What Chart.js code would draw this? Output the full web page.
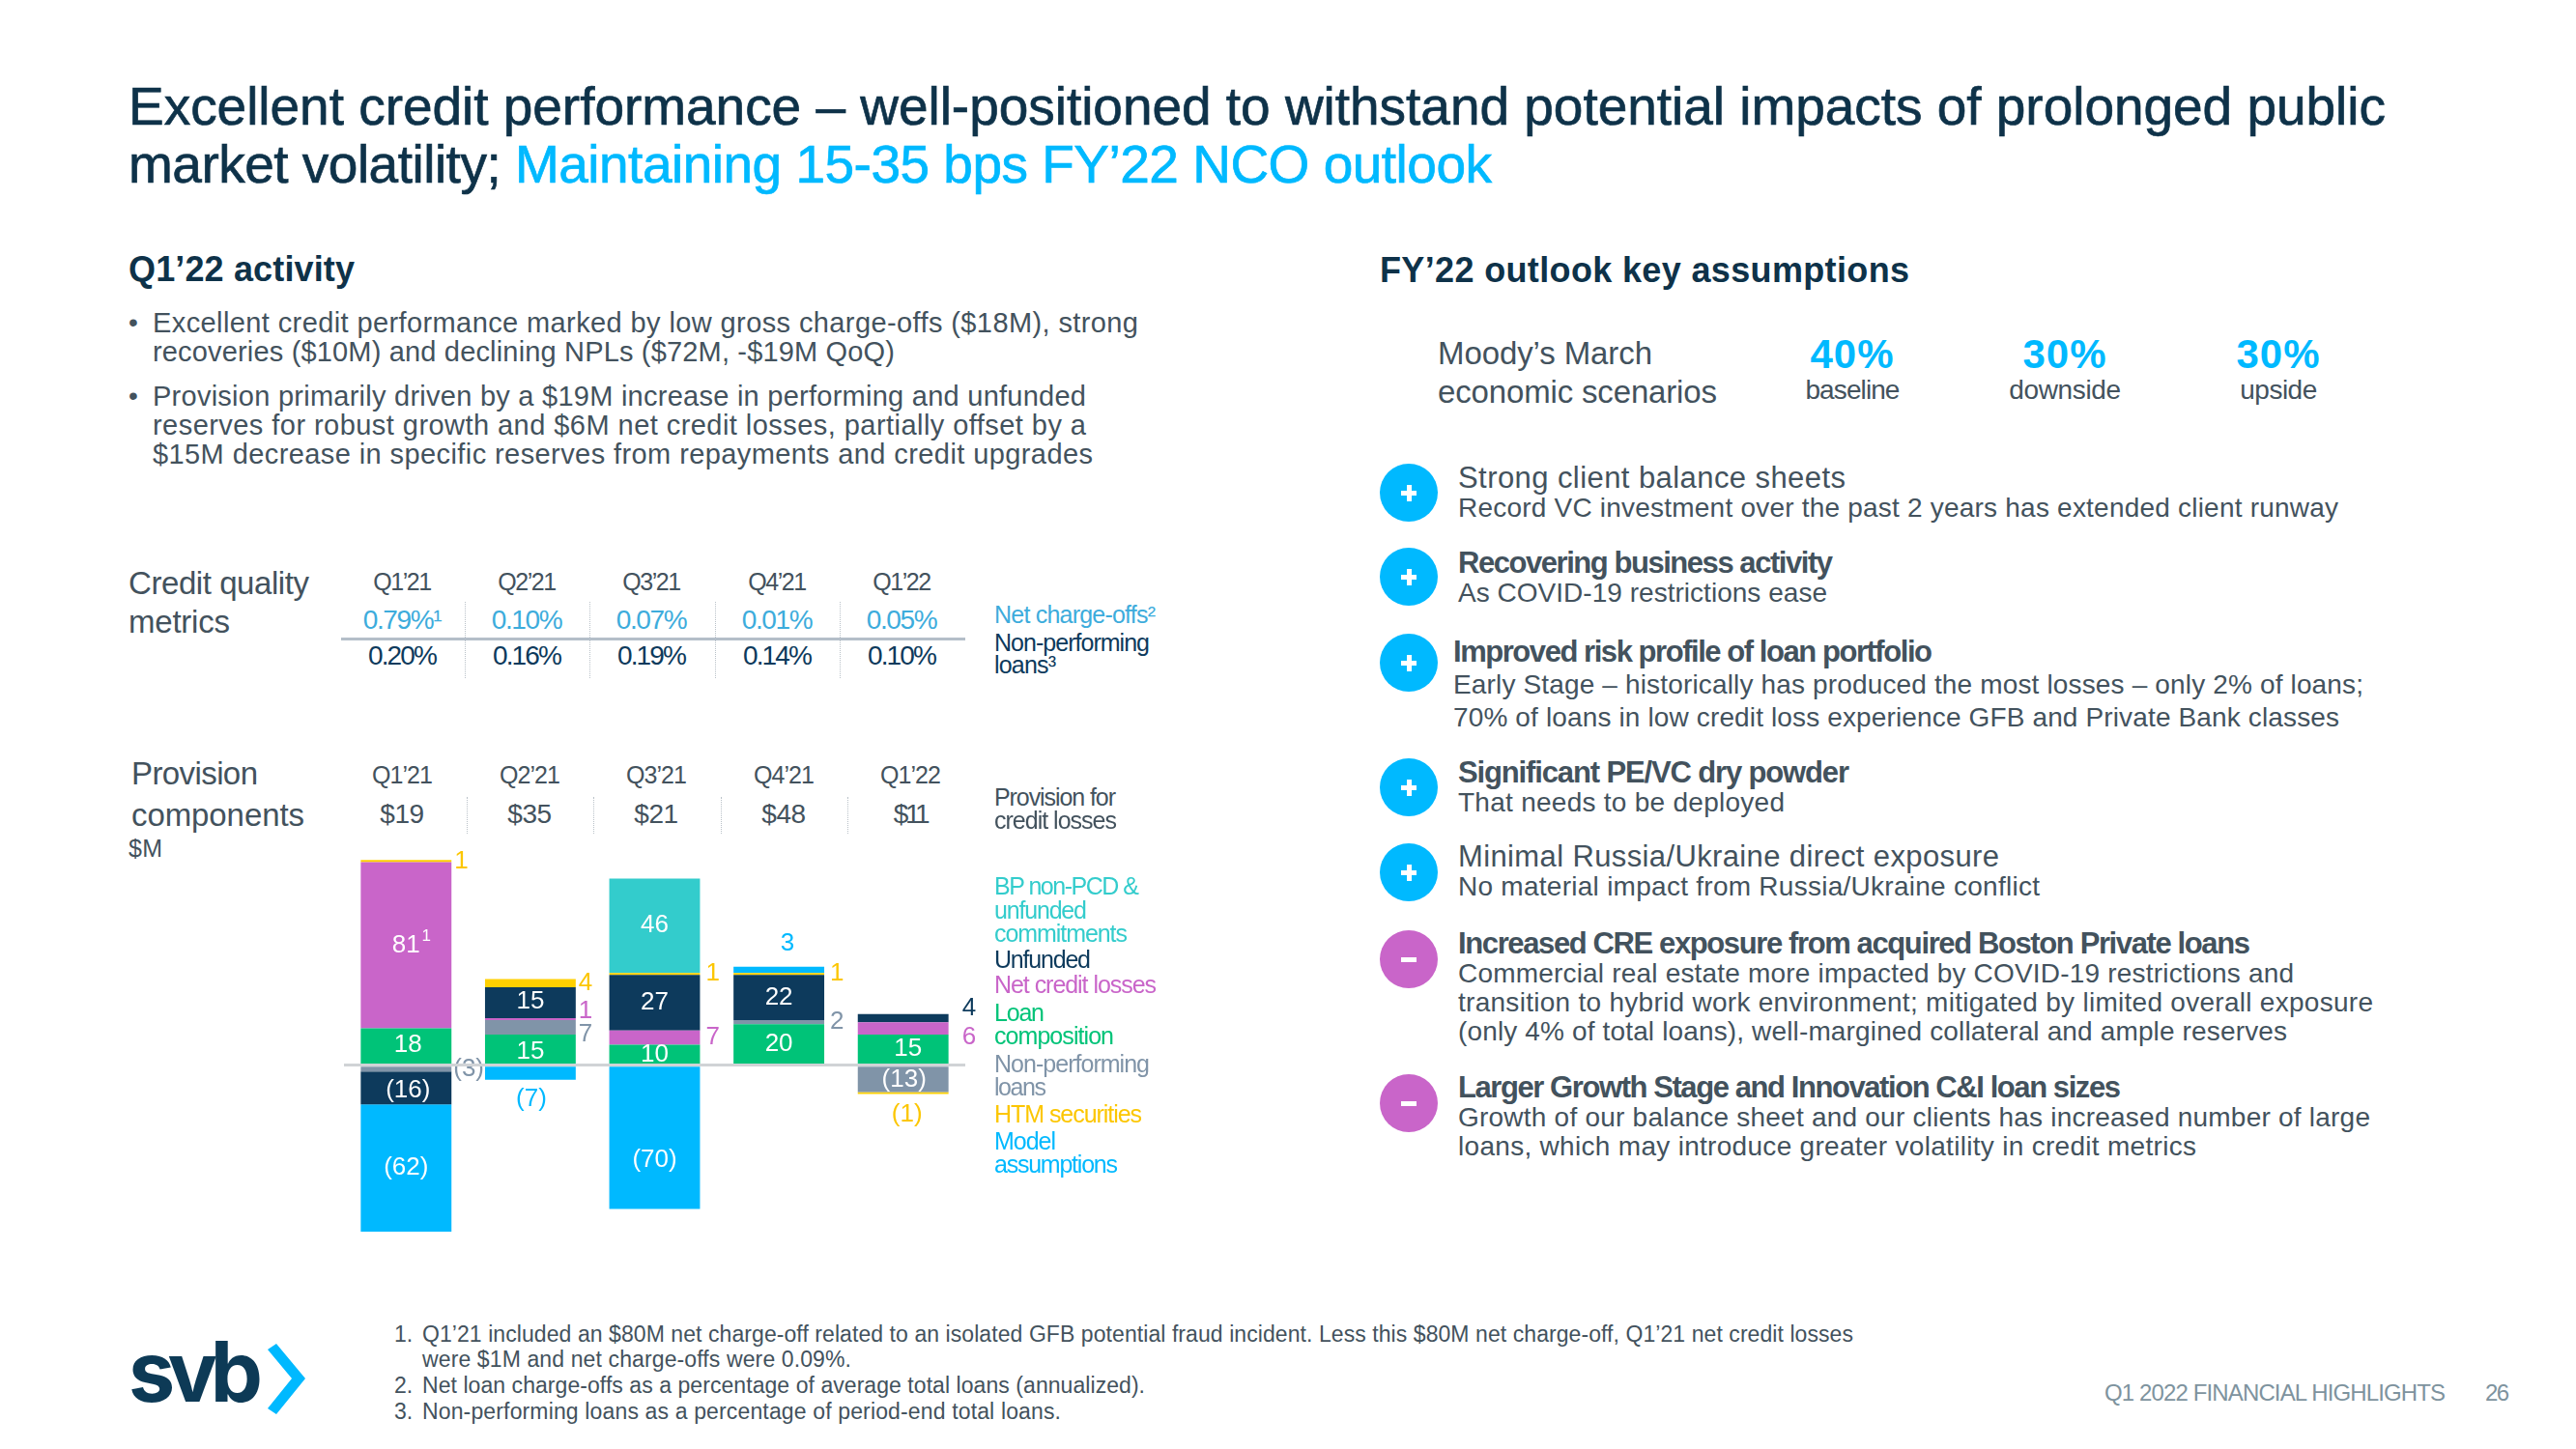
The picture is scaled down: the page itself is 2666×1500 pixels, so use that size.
<!DOCTYPE html>
<html>
<head>
<meta charset="utf-8">
<title>Credit performance</title>
<script src="https://cdn.jsdelivr.net/npm/chart.js@4"></script>
<style>
html, body { margin: 0; padding: 0; background: #fff; }
#page { position: relative; width: 2666px; height: 1500px; overflow: hidden; font-family: "Liberation Sans", sans-serif; }
#page div.t { position: absolute; white-space: nowrap; line-height: 1; }
#bars { position: absolute; left: 356px; top: 869px; }
.sep { position: absolute; width: 0; border-left: 1px dotted #b9c1c8; }
.dot { position: absolute; width: 60px; height: 60px; border-radius: 50%; color: #fff; }
.dot b { position: absolute; background: #fff; }
</style>
</head>
<body>
<div id="page">
<canvas id="bars" width="700" height="425"></canvas>
<svg style="position:absolute;left:270px;top:1385px" width="50" height="85"><polygon points="7,12 16,6 46,42 16,79 7,73 32,42" fill="#00b9ff"/></svg>
</div>
<script>
// chart data, $M
const quarters = ["Q1’21", "Q2’21", "Q3’21", "Q4’21", "Q1’22"];
const provisionTotals = ["$19", "$35", "$21", "$48", "$11"];
const netChargeOffs = ["0.79%¹", "0.10%", "0.07%", "0.01%", "0.05%"];
const nonPerforming = ["0.20%", "0.16%", "0.19%", "0.14%", "0.10%"];

const loanComposition = [18, 15, 10, 20, 15];
const nonPerformingLoans = [-3, 7, null, 2, -13];
const netCreditLosses = [81, 1, 7, null, 6];
const unfunded = [-16, 15, 27, 22, 4];
const htmSecurities = [1, 4, 1, 1, -1];
const modelAssumptions = [-62, -7, -70, 3, null];
const bpNonPcd = [null, null, 46, null, null];

const NAVY = "#0d3a5c", TEXT = "#43525d", TITLE = "#0e3249";
const GREEN = "#00c378", GRAY = "#8094a8", PURPLE = "#c965c9", YELLOW = "#ffd000", BLUE = "#00b9ff", TEAL = "#33cccc";

// hand placed labels: "dataset,quarter" -> [dx, dy]
const labelNudges = {
    "5,2": [0, 23], "5,3": [9, 0], "5,1": [1, 0],
    "0,4": [5, 0], "1,4": [1, 1], "4,4": [4, 1],
    "3,0": [2, 3], "0,0": [2, -1], "1,0": [-4, 0], "4,0": [-3, 1],
    "0,1": [0, 3], "3,1": [0, -1], "2,1": [-3, 0], "1,1": [-3, 0], "4,1": [-3, 0],
    "3,4": [8, -3], "2,4": [8, 3]
};

const page = document.getElementById("page");

// puts one line of text, letter spacing is squeezed so the line gets width w
function put(html, x, y, size, color, w, opts) {
    opts = opts || {};
    const el = document.createElement("div");
    el.className = "t";
    el.innerHTML = html;
    el.style.fontSize = size + "px";
    el.style.color = color;
    if (opts.bold) el.style.fontWeight = "700";
    if (opts.font) el.style.fontFamily = opts.font;
    if (opts.stroke) el.style.webkitTextStroke = opts.stroke + "px";
    page.appendChild(el);
    if (w) {
        const n = el.textContent.length - 1;
        el.style.letterSpacing = ((w - el.getBoundingClientRect().width) / n) + "px";
    }
    const width = el.getBoundingClientRect().width;
    el.style.left = (opts.center ? x - width / 2 : x) + "px";
    el.style.top = (y - el.getBoundingClientRect().height / 2) + "px";
}

function sep(x, top, bottom) {
    const s = document.createElement("div");
    s.className = "sep";
    s.style.left = x + "px";
    s.style.top = top + "px";
    s.style.height = (bottom - top) + "px";
    page.appendChild(s);
}

function icon(y, color, plus) {
    const d = document.createElement("div");
    d.className = "dot";
    d.style.left = "1428px";
    d.style.top = (y - 30) + "px";
    d.style.background = color;
    d.innerHTML = '<b style="left:22px;top:28px;width:16px;height:5px"></b>' +
        (plus ? '<b style="left:27.5px;top:22px;width:5px;height:17px"></b>' : "");
    page.appendChild(d);
}

// title
put("Excellent credit performance – well-positioned to withstand potential impacts of prolonged public", 133, 110, 55, TITLE, 2336, {stroke: 0.7});
put('market volatility; <span style="color:#00b9ff">Maintaining 15-35 bps FY’22 NCO outlook</span>', 133, 170, 55, TITLE, 1411, {stroke: 0.7});

// left text
put("Q1’22 activity", 133, 279, 36, TITLE, 234, {bold: true});
put("•", 133, 334, 28, TEXT);
put("Excellent credit performance marked by low gross charge-offs ($18M), strong", 158, 334, 29, TEXT, 1020);
put("recoveries ($10M) and declining NPLs ($72M, -$19M QoQ)", 158, 364, 29, TEXT, 768);
put("•", 133, 410, 28, TEXT);
put("Provision primarily driven by a $19M increase in performing and unfunded", 158, 410, 29, TEXT, 966);
put("reserves for robust growth and $6M net credit losses, partially offset by a", 158, 440, 29, TEXT, 966);
put("$15M decrease in specific reserves from repayments and credit upgrades", 158, 470, 29, TEXT, 973);

// credit quality table
put("Credit quality", 133, 603, 33, TEXT, 187);
put("metrics", 133, 643, 33, TEXT, 105);
const metricX = [416, 545, 674, 804, 933];
quarters.forEach(function (q, i) {
    put(q, metricX[i], 602, 25, TEXT, 61, {center: true});
    put(netChargeOffs[i], metricX[i], 642, 28, "#3dacdc", i == 0 ? 82 : 74, {center: true});
    put(nonPerforming[i], metricX[i], 679, 28, NAVY, 72, {center: true});
});
[481, 610, 740, 869].forEach(function (x) { sep(x, 623, 702); });
const rule = document.createElement("div");
rule.style.cssText = "position:absolute;left:353px;top:660px;width:646px;height:3px;background:#b4bec9";
page.appendChild(rule);
put("Net charge-offs²", 1029, 636, 25, "#3dacdc", 167);
put("Non-performing", 1029, 665, 25, NAVY, 161);
put("loans³", 1029, 688, 25, NAVY, 64);

// provision header
put("Provision", 136, 800, 33, TEXT, 131);
put("components", 136, 843, 33, TEXT, 179);
put("$M", 133, 878, 25, TEXT, 35);
const provX = [416, 548, 679, 811, 942];
quarters.forEach(function (q, i) {
    put(q, provX[i], 802, 25, TEXT, 63, {center: true});
    put(provisionTotals[i], provX[i], 843, 28, TEXT, i == 4 ? 38 : 46, {center: true});
});
[483, 614, 746, 877].forEach(function (x) { sep(x, 825, 863); });
put("Provision for", 1029, 825, 25, TEXT, 126);
put("credit losses", 1029, 849, 25, TEXT, 127);

// bar legend
put("BP non-PCD &amp;", 1029, 917, 25, TEAL, 150);
put("unfunded", 1029, 942, 25, TEAL, 96);
put("commitments", 1029, 966, 25, TEAL, 138);
put("Unfunded", 1029, 993, 25, NAVY, 100);
put("Net credit losses", 1029, 1019, 25, PURPLE, 168);
put("Loan", 1029, 1048, 25, GREEN, 52);
put("composition", 1029, 1072, 25, GREEN, 124);
put("Non-performing", 1029, 1101, 25, GRAY, 161);
put("loans", 1029, 1125, 25, GRAY, 54);
put("HTM securities", 1029, 1153, 25, "#fcc600", 153);
put("Model", 1029, 1181, 25, BLUE, 64);
put("assumptions", 1029, 1205, 25, BLUE, 128);

// right column
put("FY’22 outlook key assumptions", 1428, 280, 36, TITLE, 548, {bold: true});
put("Moody’s March", 1488, 365, 33, TEXT, 222);
put("economic scenarios", 1488, 405, 33, TEXT, 289);
put("40%", 1917, 367, 42, BLUE, 86, {bold: true, center: true});
put("30%", 2137, 367, 42, BLUE, 86, {bold: true, center: true});
put("30%", 2358, 367, 42, BLUE, 86, {bold: true, center: true});
put("baseline", 1917, 404, 28, TEXT, 98, {center: true});
put("downside", 2137, 404, 28, TEXT, 116, {center: true});
put("upside", 2358, 404, 28, TEXT, 80, {center: true});

icon(510, BLUE, true); icon(597, BLUE, true); icon(686, BLUE, true);
icon(815, BLUE, true); icon(903, BLUE, true);
icon(993, PURPLE, false); icon(1142, PURPLE, false);

put("Strong client balance sheets", 1509, 494, 31, TEXT, 401);
put("Record VC investment over the past 2 years has extended client runway", 1509, 526, 28, TEXT, 911);
put("Recovering business activity", 1509, 582, 31, TEXT, 388, {bold: true});
put("As COVID-19 restrictions ease", 1509, 614, 28, TEXT, 382);
put("Improved risk profile of loan portfolio", 1504, 674, 31, TEXT, 496, {bold: true});
put("Early Stage – historically has produced the most losses – only 2% of loans;", 1504, 709, 28, TEXT, 942);
put("70% of loans in low credit loss experience GFB and Private Bank classes", 1504, 743, 28, TEXT, 917);
put("Significant PE/VC dry powder", 1509, 799, 31, TEXT, 405, {bold: true});
put("That needs to be deployed", 1509, 831, 28, TEXT, 338);
put("Minimal Russia/Ukraine direct exposure", 1509, 886, 31, TEXT, 560);
put("No material impact from Russia/Ukraine conflict", 1509, 918, 28, TEXT, 602);
put("Increased CRE exposure from acquired Boston Private loans", 1509, 976, 31, TEXT, 820, {bold: true});
put("Commercial real estate more impacted by COVID-19 restrictions and", 1509, 1008, 28, TEXT, 865);
put("transition to hybrid work environment; mitigated by limited overall exposure", 1509, 1038, 28, TEXT, 947);
put("(only 4% of total loans), well-margined collateral and ample reserves", 1509, 1068, 28, TEXT, 858);
put("Larger Growth Stage and Innovation C&amp;I loan sizes", 1509, 1125, 31, TEXT, 686, {bold: true});
put("Growth of our balance sheet and our clients has increased number of large", 1509, 1157, 28, TEXT, 944);
put("loans, which may introduce greater volatility in credit metrics", 1509, 1187, 28, TEXT, 764);

// footer
put("svb", 133, 1420, 86, "#0d3a56", 139, {bold: true, font: "Inter"});
put("1.", 408, 1381, 23, TEXT);
put("Q1’21 included an $80M net charge-off related to an isolated GFB potential fraud incident. Less this $80M net charge-off, Q1’21 net credit losses", 437, 1381, 23, TEXT, 1481);
put("were $1M and net charge-offs were 0.09%.", 437, 1407, 23, TEXT, 444);
put("2.", 408, 1434, 23, TEXT);
put("Net loan charge-offs as a percentage of average total loans (annualized).", 437, 1434, 23, TEXT, 748);
put("3.", 408, 1461, 23, TEXT);
put("Non-performing loans as a percentage of period-end total loans.", 437, 1461, 23, TEXT, 661);
put("Q1 2022 FINANCIAL HIGHLIGHTS", 2178, 1442, 24, "#7e939e", 353);
put("26", 2572, 1442, 24, "#7e939e", 25);

// writes the values on the bars, small ones go next to the bar
const barLabels = {
    id: "barLabels",
    afterDatasetsDraw(chart) {
        const ctx = chart.ctx;
        ctx.save();
        ctx.font = "26px 'Liberation Sans'";
        ctx.textBaseline = "middle";
        quarters.forEach(function (q, i) {
            const side = [];
            chart.data.datasets.forEach(function (ds, d) {
                const v = ds.data[i];
                if (v == null) return;
                const bar = chart.getDatasetMeta(d).data[i];
                const nudge = labelNudges[d + "," + i] || [0, 0];
                const txt = v < 0 ? "(" + (-v) + ")" : "" + v;
                const mid = (bar.y + bar.base) / 2;
                if (Math.abs(v) >= 10) {
                    ctx.fillStyle = "#fff";
                    ctx.textAlign = "center";
                    ctx.fillText(txt, bar.x + nudge[0], mid + nudge[1]);
                    if (v == 81) {
                        ctx.font = "17px 'Liberation Sans'";
                        ctx.fillText("1", bar.x + 21, mid - 9);
                        ctx.font = "26px 'Liberation Sans'";
                    }
                } else if (ds.label == "Model assumptions" || (v < 0 && ds.label == "HTM securities")) {
                    ctx.fillStyle = ds.textColor;
                    ctx.textAlign = "center";
                    ctx.fillText(txt, bar.x + nudge[0], (v < 0 ? Math.max(bar.y, bar.base) + 20 : Math.min(bar.y, bar.base) - 24) + nudge[1]);
                } else {
                    side.push({txt: txt, y: mid, x: bar.x + bar.width / 2 + 6, color: ds.textColor, nudge: nudge});
                }
            });
            // keep the side labels from running into each other
            side.sort(function (a, b) { return a.y - b.y; });
            for (let k = 1; k < side.length; k++) {
                const gap = side[k].y - side[k - 1].y;
                if (gap < 24) {
                    side[k - 1].y -= (24 - gap) / 2;
                    side[k].y += (24 - gap) / 2;
                }
            }
            side.forEach(function (s) {
                ctx.fillStyle = s.color;
                ctx.textAlign = "left";
                ctx.fillText(s.txt, s.x + s.nudge[0], s.y + s.nudge[1]);
            });
        });
        ctx.restore();
    }
};

const config = {
    type: "bar",
    data: {
        labels: quarters,
        datasets: [
            {label: "Loan composition", data: loanComposition, backgroundColor: GREEN, textColor: GREEN},
            {label: "Non-performing loans", data: nonPerformingLoans, backgroundColor: GRAY, textColor: GRAY},
            {label: "Net credit losses", data: netCreditLosses, backgroundColor: PURPLE, textColor: PURPLE},
            {label: "Unfunded", data: unfunded, backgroundColor: NAVY, textColor: NAVY},
            {label: "HTM securities", data: htmSecurities, backgroundColor: YELLOW, textColor: "#fcc600"},
            {label: "Model assumptions", data: modelAssumptions, backgroundColor: BLUE, textColor: BLUE},
            {label: "BP non-PCD & unfunded commitments", data: bpNonPcd, backgroundColor: TEAL, textColor: TEAL}
        ]
    },
    options: {
        responsive: false,
        animation: false,
        layout: {padding: {right: 57}},
        datasets: {bar: {barPercentage: 0.73, categoryPercentage: 1}},
        plugins: {legend: {display: false}, tooltip: {enabled: false}},
        scales: {
            x: {stacked: true, display: false},
            y: {
                stacked: true,
                min: -90,
                max: 110,
                border: {display: false},
                ticks: {display: false, stepSize: 10},
                grid: {
                    z: 1,
                    drawTicks: false,
                    lineWidth: 3,
                    color: function (c) { return c.tick.value === 0 ? "#d0d3d6" : "transparent"; }
                }
            }
        }
    },
    plugins: [barLabels]
};

const my_chart = new Chart(document.getElementById("bars"), config);
</script>
</body>
</html>
